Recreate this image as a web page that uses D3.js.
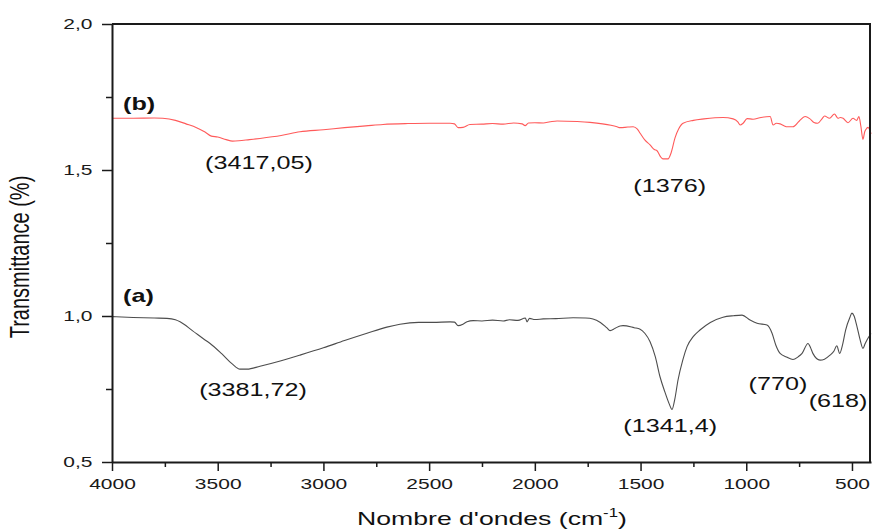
<!DOCTYPE html>
<html>
<head>
    <meta charset="utf-8" />
    <title>FTIR spectra</title>
    <style>
    body { margin: 0; background: #fff; }
    svg { display: block; font-family: Arial, "Liberation Sans", sans-serif; }
    .line { fill: none; stroke-width: 1.1px; stroke-linejoin: round; }
    .axis path, .axis line { stroke: #1a1a1a; }
    .axis text { fill: #1a1a1a; font-size: 15px; font-family: Arial, "Liberation Sans", sans-serif; }
    </style>
</head>
<body>
    <div id="chart"></div>

    <script src="https://d3js.org/d3.v7.min.js"></script>
    <script>
        // spectrum (b) - red, [wavenumber, transmittance]
        var specB = [
            [4000,1.677],[3900,1.677],[3800,1.678],[3760,1.677],[3700,1.670],[3650,1.658],
            [3600,1.645],[3560,1.630],[3530,1.616],[3500,1.613],[3460,1.604],[3430,1.599],
            [3400,1.600],[3350,1.604],[3300,1.608],[3200,1.618],[3111,1.631],[3000,1.638],
            [2900,1.645],[2800,1.651],[2718,1.656],[2600,1.659],[2500,1.660],[2401,1.660],
            [2380,1.658],[2363,1.645],[2340,1.646],[2307,1.656],[2250,1.657],[2200,1.659],
            [2150,1.657],[2100,1.661],[2060,1.658],[2046,1.652],[2030,1.661],[2000,1.662],
            [1960,1.661],[1928,1.665],[1895,1.668],[1800,1.666],[1739,1.663],[1680,1.658],
            [1640,1.653],[1611,1.648],[1597,1.645],[1560,1.647],[1535,1.648],[1515,1.640],
            [1502,1.626],[1480,1.603],[1455,1.586],[1435,1.570],[1422,1.566],[1405,1.545],
            [1394,1.538],[1370,1.538],[1355,1.560],[1337,1.610],[1320,1.640],[1299,1.660],
            [1250,1.670],[1200,1.675],[1110,1.680],[1062,1.675],[1040,1.665],[1029,1.654],
            [1015,1.660],[996,1.676],[968,1.674],[930,1.680],[887,1.683],[873,1.654],
            [858,1.660],[840,1.658],[820,1.651],[807,1.648],[779,1.648],[750,1.667],
            [722,1.683],[700,1.676],[680,1.663],[662,1.660],[640,1.677],[630,1.685],
            [606,1.677],[583,1.692],[566,1.677],[555,1.680],[542,1.677],[519,1.662],
            [495,1.677],[478,1.670],[467,1.683],[458,1.650],[448,1.605],[440,1.630],
            [434,1.639],[424,1.646],[410,1.624]
        ];

        // spectrum (a) - grey
        var specA = [
            [4000,0.998],[3900,0.995],[3800,0.993],[3740,0.992],[3700,0.987],[3678,0.980],
            [3620,0.950],[3560,0.918],[3536,0.906],[3480,0.870],[3430,0.835],[3395,0.818],
            [3361,0.818],[3300,0.828],[3200,0.847],[3111,0.866],[3000,0.891],[2900,0.916],
            [2794,0.941],[2700,0.962],[2638,0.972],[2550,0.978],[2482,0.978],[2401,0.980],
            [2380,0.979],[2363,0.967],[2340,0.972],[2321,0.980],[2292,0.984],[2250,0.983],
            [2200,0.986],[2150,0.983],[2120,0.987],[2080,0.985],[2045,0.993],[2037,0.980],
            [2025,0.992],[2000,0.988],[1960,0.990],[1900,0.991],[1819,0.994],[1760,0.993],
            [1725,0.990],[1690,0.978],[1660,0.960],[1644,0.950],[1620,0.958],[1597,0.966],
            [1583,0.967],[1530,0.960],[1502,0.955],[1479,0.940],[1455,0.912],[1430,0.860],
            [1408,0.792],[1385,0.740],[1365,0.700],[1351,0.680],[1338,0.715],[1323,0.780],
            [1300,0.850],[1280,0.895],[1250,0.930],[1219,0.952],[1170,0.978],[1110,0.996],
            [1060,1.001],[1020,1.003],[982,0.986],[949,0.975],[902,0.969],[878,0.941],
            [860,0.900],[840,0.872],[810,0.860],[779,0.851],[755,0.860],[736,0.872],
            [708,0.906],[695,0.890],[685,0.872],[651,0.849],[630,0.852],[604,0.866],
            [585,0.880],[572,0.898],[558,0.872],[545,0.900],[530,0.952],[510,0.995],
            [500,1.010],[490,1.000],[478,0.969],[462,0.920],[448,0.889],[438,0.905],
            [429,0.918],[410,0.940]
        ];

        var xTicks = [4000, 3500, 3000, 2500, 2000, 1500, 1000, 500];
        var xMinor = [3750, 3250, 2750, 2250, 1750, 1250, 750];
        var yTicks = [0.5, 1.0, 1.5, 2.0];
        var yMinor = [0.75, 1.25, 1.75];

        // peak annotations: [text, wavenumber, transmittance]
        var peakLabels = [
            ["(3417,05)", 3305, 1.502],
            ["(1376)", 1362, 1.424],
            ["(3381,72)", 3333, 0.727],
            ["(1341,4)", 1360, 0.603],
            ["(770)", 850, 0.748],
            ["(618)", 566, 0.687]
        ];
        var seriesLabels = [["(b)", 1.705], ["(a)", 1.048]];

        var W = 872, H = 531;
        var SX = 1.4; // the original figure is stretched horizontally
        var margin = {left: 112, right: 1, top: 24, bottom: 69};

        var x = d3.scaleLinear().domain([4000, 410]).range([margin.left, W - margin.right]);
        var y = d3.scaleLinear().domain([0.5, 2.0]).range([H - margin.bottom, margin.top]);

        var fmt = d3.formatLocale({decimal: ",", thousands: "", grouping: [3], currency: ["", ""]}).format(".1f");

        var svg = d3.select("#chart").append("svg")
            .attr("width", W)
            .attr("height", H);

        var line = d3.line()
            .x(function(d) { return x(d[0]); })
            .y(function(d) { return y(d[1]); })
            .curve(d3.curveMonotoneX);

        svg.append("path").datum(specB).attr("class", "line").attr("stroke", "#ff5a5a").attr("d", line);
        svg.append("path").datum(specA).attr("class", "line").attr("stroke", "#4d4d4d").attr("d", line);

        // frame (top and right)
        svg.append("line").attr("x1", x(4000)).attr("x2", x(410)).attr("y1", y(2)).attr("y2", y(2))
            .attr("stroke", "#1a1a1a").attr("stroke-width", 2);
        svg.append("line").attr("x1", x(410) - 1).attr("x2", x(410) - 1).attr("y1", y(2)).attr("y2", y(0.5))
            .attr("stroke", "#1a1a1a").attr("stroke-width", 2);

        // axes
        var gy = svg.append("g").attr("class", "axis").attr("transform", "translate(" + margin.left + ",0)")
            .call(d3.axisLeft(y).tickValues(yTicks).tickFormat(fmt).tickSize(10).tickPadding(4).tickSizeOuter(0));
        svg.append("g").attr("class", "axis").attr("transform", "translate(" + margin.left + ",0)")
            .call(d3.axisLeft(y).tickValues(yMinor).tickFormat("").tickSize(6).tickSizeOuter(0))
            .select(".domain").remove();

        var gx = svg.append("g").attr("class", "axis").attr("transform", "translate(0," + (H - margin.bottom) + ")")
            .call(d3.axisBottom(x).tickValues(xTicks).tickFormat(d3.format("d")).tickSize(9).tickPadding(7).tickSizeOuter(0));
        svg.append("g").attr("class", "axis").attr("transform", "translate(0," + (H - margin.bottom) + ")")
            .call(d3.axisBottom(x).tickValues(xMinor).tickFormat("").tickSize(5).tickSizeOuter(0))
            .select(".domain").remove();

        svg.selectAll(".axis path").attr("stroke-width", 2);
        svg.selectAll(".axis line").attr("stroke-width", 1.5);
        gy.selectAll("text").attr("transform", "scale(" + SX + ",1)");
        gx.selectAll("text").attr("transform", "scale(" + SX + ",1)");

        // helper for horizontally stretched text
        function stretchText(txt, px, py, size, weight, anchor) {
            return svg.append("text")
                .attr("transform", "translate(" + px + "," + py + ") scale(" + SX + ",1)")
                .attr("text-anchor", anchor || "middle")
                .attr("font-size", size)
                .attr("font-weight", weight || "normal")
                .attr("fill", "#111")
                .text(txt);
        }

        peakLabels.forEach(function(p) {
            stretchText(p[0], x(p[1]), y(p[2]), 18);
        });
        seriesLabels.forEach(function(s) {
            stretchText(s[0], x(4000) + 11, y(s[1]), 18, "bold", "start");
        });

        // axis titles
        var xt = stretchText("Nombre d'ondes (cm", 492, 525, 19);
        xt.append("tspan").attr("font-size", 12).attr("dy", -8).text("-1");
        xt.append("tspan").attr("dy", 8).text(")");

        svg.append("text")
            .attr("transform", "translate(29,257) scale(" + SX + ",1) rotate(-90)")
            .attr("text-anchor", "middle")
            .attr("font-size", 20)
            .attr("fill", "#111")
            .text("Transmittance (%)");
    </script>
</body>
</html>
